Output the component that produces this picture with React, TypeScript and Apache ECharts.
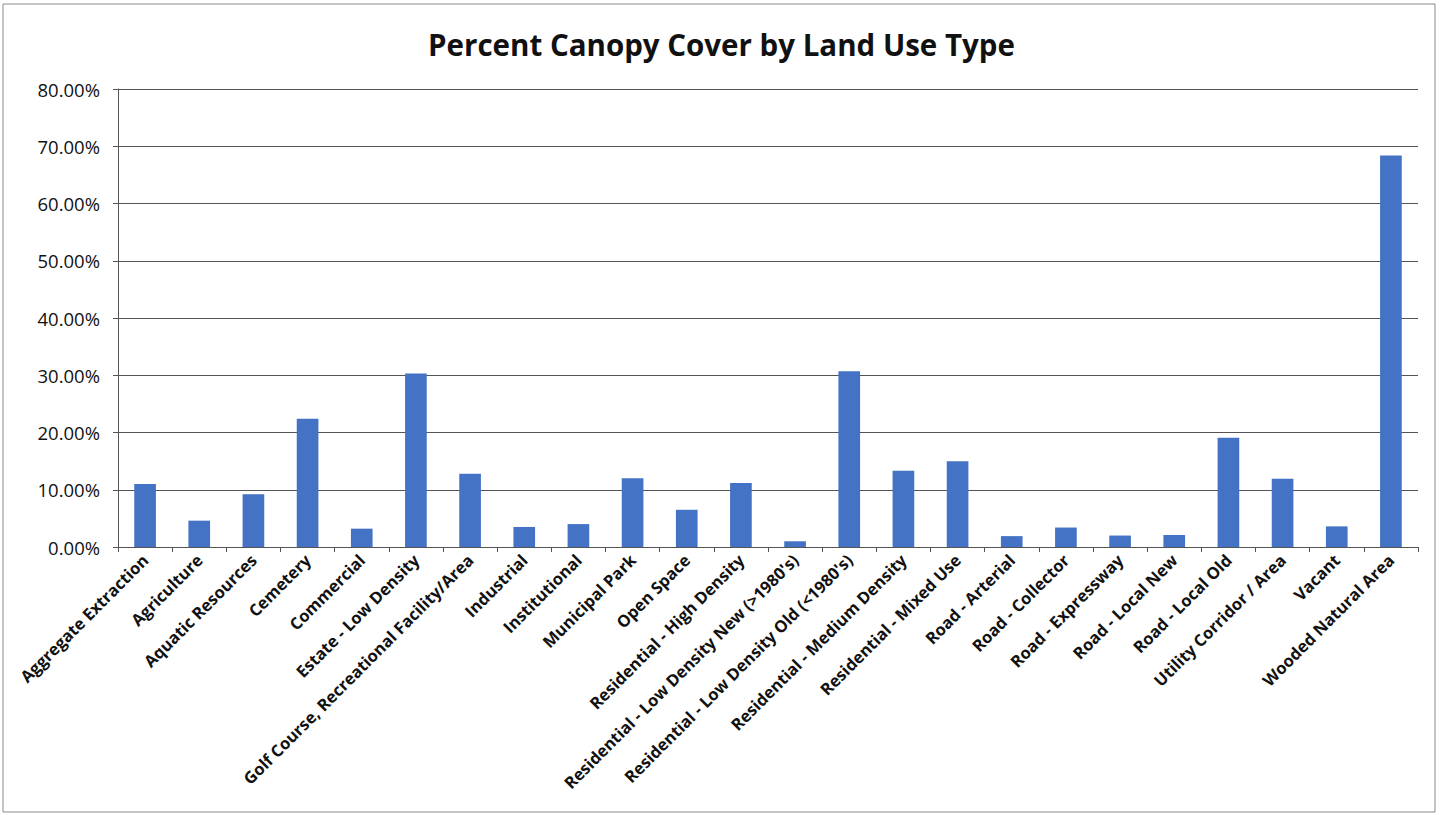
import React, { useEffect, useRef } from "react";
import * as echarts from "echarts";

const categories = [
  "Aggregate Extraction",
  "Agriculture",
  "Aquatic Resources",
  "Cemetery",
  "Commercial",
  "Estate - Low Density",
  "Golf Course, Recreational Facility/Area",
  "Industrial",
  "Institutional",
  "Municipal Park",
  "Open Space",
  "Residential - High Density",
  "Residential - Low Density New (>1980's)",
  "Residential - Low Density Old (<1980's)",
  "Residential - Medium Density",
  "Residential - Mixed Use",
  "Road - Arterial",
  "Road - Collector",
  "Road - Expressway",
  "Road - Local New",
  "Road - Local Old",
  "Utility Corridor / Area",
  "Vacant",
  "Wooded Natural Area",
];

const canopyCover = [
  11.0, 4.6, 9.2, 22.4, 3.2, 30.3, 12.8, 3.5, 4.0, 12.0, 6.5, 11.2, 1.0, 30.7,
  13.3, 15.0, 1.9, 3.4, 2.0, 2.1, 19.1, 11.9, 3.6, 68.4,
];

const yTicks = { min: 0, max: 80, interval: 10 };
const title = "Percent Canopy Cover by Land Use Type";

export default function App() {
  const ref = useRef<HTMLDivElement>(null);
  useEffect(() => {
    if (!ref.current) return;
    const chart = echarts.init(ref.current, undefined, { renderer: "svg" });
    chart.setOption({
      animation: false,
      backgroundColor: "#ffffff",
      title: {
        text: title,
        left: "center",
        top: 24,
        textStyle: {
          fontFamily: "Open Sans",
          fontSize: 29.5,
          fontWeight: "bold",
          color: "#111",
        },
      },
      graphic: [
        {
          type: "rect",
          shape: { x: 3, y: 4, width: 1432, height: 808 },
          style: { fill: "none", stroke: "#8a8a8a", lineWidth: 1 },
          silent: true,
        },
      ],
      grid: { left: 118, right: 25, top: 89, bottom: 268 },
      xAxis: {
        type: "category",
        data: categories,
        axisLine: { show: true, lineStyle: { color: "#555", width: 1 } },
        axisTick: {
          show: true,
          alignWithLabel: false,
          length: 5,
          lineStyle: { color: "#555" },
        },
        axisLabel: {
          interval: 0,
          rotate: 45,
          margin: 10,
          fontFamily: "Open Sans",
          fontSize: 16.5,
          fontWeight: "bold",
          color: "#111",
        },
      },
      yAxis: {
        type: "value",
        min: yTicks.min,
        max: yTicks.max,
        interval: yTicks.interval,
        axisLine: { show: true, lineStyle: { color: "#555", width: 1 } },
        axisTick: { show: true, length: 5, lineStyle: { color: "#555" } },
        splitLine: { show: true, lineStyle: { color: "#555", width: 1 } },
        axisLabel: {
          formatter: (v: number) => v.toFixed(2) + "%",
          margin: 18,
          fontFamily: "Open Sans",
          fontSize: 18.5,
          color: "#111",
        },
      },
      series: [
        {
          type: "bar",
          data: canopyCover,
          barWidth: "40%",
          itemStyle: { color: "#4472C4" },
        },
      ],
    });
    return () => chart.dispose();
  }, []);
  return (
    <div
      ref={ref}
      style={{ position: "fixed", left: 0, top: 0, width: 1443, height: 815 }}
    />
  );
}
